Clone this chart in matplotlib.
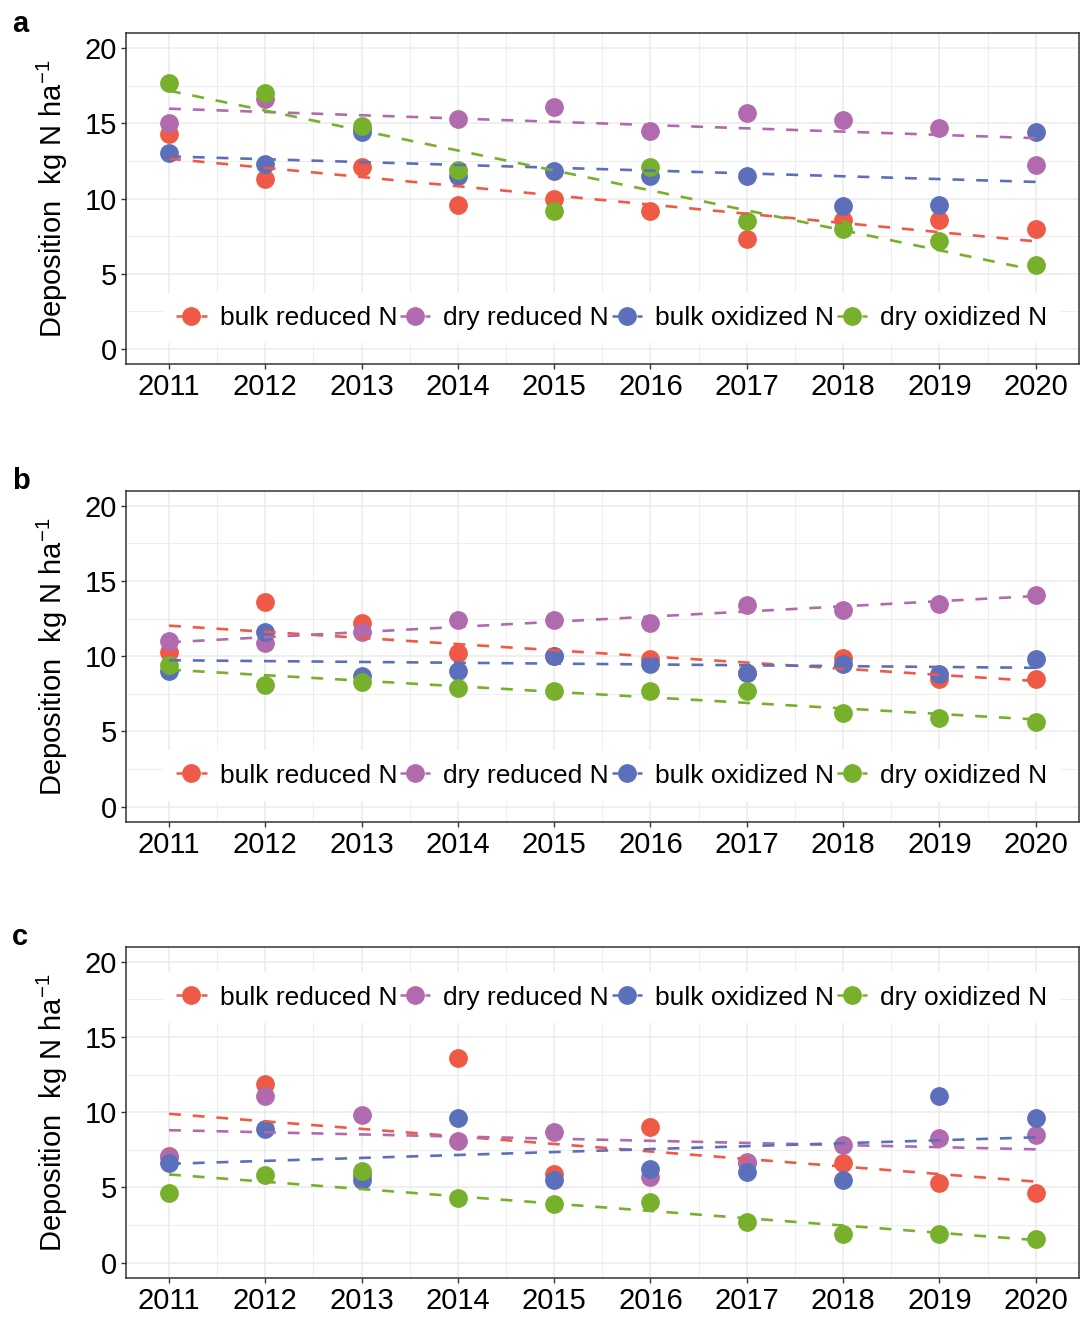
import numpy as np
import matplotlib
matplotlib.use('Agg')
import matplotlib.pyplot as plt
from matplotlib.ticker import MultipleLocator

plt.rcParams['font.family'] = ['Liberation Sans', 'DejaVu Sans']
plt.rcParams['mathtext.fontset'] = 'custom'
plt.rcParams['mathtext.rm'] = 'Liberation Sans'
plt.rcParams['mathtext.it'] = 'Liberation Sans:italic'

years = [2011, 2012, 2013, 2014, 2015, 2016, 2017, 2018, 2019, 2020]
series_names = ['bulk reduced N', 'dry reduced N', 'bulk oxidized N', 'dry oxidized N']
colors = ['#EE5A45', '#B26AAE', '#5B6FBB', '#77B02B']
panel_labels = ['a', 'b', 'c']

# panel a
a_bulk_red = [14.3, 11.3, 12.1, 9.6, 10.0, 9.2, 7.3, 8.6, 8.6, 8.0]
a_dry_red = [15.0, 16.6, 14.6, 15.3, 16.1, 14.5, 15.7, 15.2, 14.7, 12.2]
a_bulk_ox = [13.0, 12.3, 14.4, 11.5, 11.8, 11.5, 11.5, 9.5, 9.6, 14.4]
a_dry_ox = [17.7, 17.0, 14.8, 11.9, 9.2, 12.1, 8.5, 8.0, 7.2, 5.6]

# panel b
b_bulk_red = [10.3, 13.6, 12.2, 10.2, 10.0, 9.8, 8.9, 9.9, 8.5, 8.5]
b_dry_red = [11.0, 10.9, 11.6, 12.4, 12.4, 12.2, 13.4, 13.1, 13.5, 14.1]
b_bulk_ox = [9.0, 11.6, 8.7, 9.0, 10.0, 9.5, 8.9, 9.5, 8.8, 9.8]
b_dry_ox = [9.4, 8.1, 8.3, 7.9, 7.7, 7.7, 7.7, 6.2, 5.9, 5.6]

# panel c
c_bulk_red = [7.1, 11.9, 5.8, 13.6, 5.9, 9.0, 6.6, 6.6, 5.3, 4.6]
c_dry_red = [7.0, 11.1, 9.8, 8.1, 8.7, 5.7, 6.7, 7.8, 8.3, 8.5]
c_bulk_ox = [6.6, 8.9, 5.5, 9.6, 5.5, 6.2, 6.0, 5.5, 11.1, 9.6]
c_dry_ox = [4.6, 5.8, 6.1, 4.3, 3.9, 4.0, 2.7, 1.9, 1.9, 1.6]

panels = [
    [a_bulk_red, a_dry_red, a_bulk_ox, a_dry_ox],
    [b_bulk_red, b_dry_red, b_bulk_ox, b_dry_ox],
    [c_bulk_red, c_dry_red, c_bulk_ox, c_dry_ox],
]
legend_y = [0.139, 0.139, 0.846]

fig = plt.figure(figsize=(10.81, 13.18), dpi=100)
H = 1318.0
tops = [33, 490.7, 946.7]
label_base = [32, 489, 945]
x = np.array(years, dtype=float)

for i, data in enumerate(panels):
    top = tops[i]
    ax = fig.add_axes([125.7 / 1081, 1 - (top + 331) / H, 953.3 / 1081, 331 / H])
    handles = []
    for vals, c in zip(data, colors):
        ax.plot(x, vals, 'o', color=c, ms=12.5, zorder=3)
    # linear trend per series, drawn over the points
    for vals, c, name in zip(data, colors, series_names):
        k, b = np.polyfit(x, vals, 1)
        ax.plot(x, k * x + b, color=c, lw=1.9, dashes=(4.5, 4.5), zorder=4)
        h, = ax.plot([], [], color=c, lw=1.8, dashes=(2.5, 2.5), marker='o', ms=12.5, label=name)
        handles.append(h)
    ax.set_xlim(2010.55, 2020.45)
    ax.set_ylim(-1, 21)
    ax.set_xticks(years)
    ax.set_yticks([0, 5, 10, 15, 20])
    ax.xaxis.set_minor_locator(MultipleLocator(0.5))
    ax.yaxis.set_minor_locator(MultipleLocator(2.5))
    ax.grid(which='major', color='#EBEBEB', lw=1.1, zorder=0)
    ax.grid(which='minor', color='#EBEBEB', lw=0.6, zorder=0)
    ax.set_axisbelow(True)
    ax.tick_params(which='major', length=3.5, width=1, color='#333333', labelsize=21, pad=3, labelcolor='black')
    ax.tick_params(which='minor', length=0)
    for s in ax.spines.values():
        s.set_color('#333333')
        s.set_linewidth(1.1)
    ax.set_ylabel('Deposition  kg N ha$^{-1}$', fontsize=21)
    ax.yaxis.set_label_coords(-0.058, 0.5)
    leg = ax.legend(handles=handles, loc='center', bbox_to_anchor=(0.51, legend_y[i]), ncol=4,
                    fontsize=19, frameon=True, facecolor='white', edgecolor='white', framealpha=1,
                    handlelength=1.15, handletextpad=0.5, columnspacing=0.1, borderpad=0.5,
                    fancybox=False)
    leg.get_frame().set_linewidth(0)
    fig.text(0.011, 1 - label_base[i] / H, panel_labels[i], fontsize=21, fontweight='bold', va='baseline')

fig.savefig('out.png', dpi=100)
